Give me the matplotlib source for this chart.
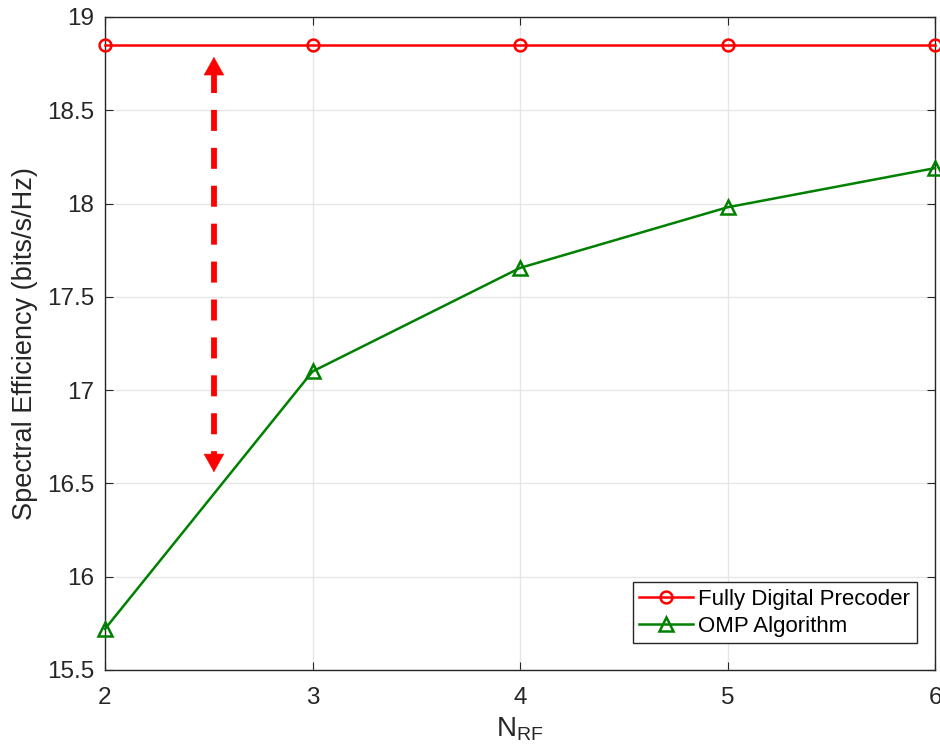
import matplotlib.pyplot as plt
import numpy as np

plt.rcParams['font.family'] = ['Liberation Sans', 'DejaVu Sans']
plt.rcParams['mathtext.fontset'] = 'custom'
plt.rcParams['mathtext.rm'] = 'Liberation Sans'

n_rf = [2, 3, 4, 5, 6]
fully_digital = [18.85, 18.85, 18.85, 18.85, 18.85]
omp = [15.72, 17.10, 17.655, 17.98, 18.19]

# gap arrow (data coords)
arrow_x = 2.525
arrow_top = 18.786
arrow_bottom = 16.56
head_len = 0.09

fig = plt.figure(figsize=(9.4, 7.55), dpi=100)
ax = fig.add_axes([0.1117, 0.1126, 0.9947 - 0.1117, 0.9775 - 0.1126])

ax.plot(n_rf, fully_digital, color='#ff0000', lw=1.8, marker='o', ms=8.5,
        mfc='none', mew=1.8, label='Fully Digital Precoder', clip_on=False, zorder=3)
ax.plot(n_rf, omp, color='#008000', lw=1.8, marker='^', ms=10,
        mfc='none', mew=1.8, label='OMP Algorithm', clip_on=False, zorder=3)

# dashed shaft + two filled heads
ax.plot([arrow_x, arrow_x], [arrow_top - head_len + 0.01, arrow_bottom + head_len - 0.01],
        color='#ff0000', lw=4.2, ls=(0, (3.6, 2.9)), solid_capstyle='butt')
for tip, base in [(arrow_top, arrow_top - head_len), (arrow_bottom, arrow_bottom + head_len)]:
    ax.annotate('', xy=(arrow_x, tip), xytext=(arrow_x, base),
                arrowprops=dict(arrowstyle='-|>,head_length=1.25,head_width=0.7',
                                color='#ff0000', lw=0.5, shrinkA=0, shrinkB=0))

ax.set_xlim(2, 6)
ax.set_ylim(15.5, 19)
ax.set_xticks(n_rf)
ax.set_yticks(np.arange(15.5, 19.01, 0.5))
ax.set_yticklabels(['15.5', '16', '16.5', '17', '17.5', '18', '18.5', '19'])
ax.grid(True, color='#e6e6e6', lw=1)
ax.set_axisbelow(True)
ax.tick_params(direction='in', length=6, labelsize=17.5, colors='#262626',
               top=True, right=True)
ax.tick_params(axis='x', pad=12)
ax.tick_params(axis='y', pad=8)
for s in ax.spines.values():
    s.set_color('#262626')
    s.set_linewidth(1)

ax.set_xlabel(r'N$_{\mathregular{RF}}$', fontsize=20, color='#262626', labelpad=5)
ax.set_ylabel('Spectral Efficiency (bits/s/Hz)', fontsize=19.5, color='#262626', labelpad=6)

leg = ax.legend(loc='lower right', bbox_to_anchor=(0.978, 0.041), fontsize=16,
                fancybox=False, framealpha=1, edgecolor='#262626', borderpad=0.3,
                handlelength=2.4, handletextpad=0.25, labelspacing=0.25,
                borderaxespad=0)
leg.get_frame().set_linewidth(1)

fig.savefig('out.png', dpi=100)
